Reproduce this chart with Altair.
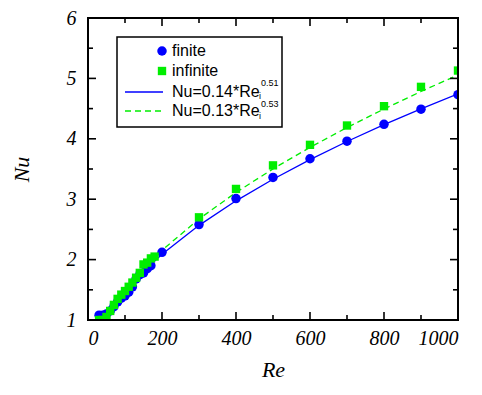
import altair as alt
import pandas as pd

# ---- data ----
fin_re = [30, 40, 50, 60, 70, 80, 90, 100, 110, 120, 130, 140, 150, 160, 170, 200,
          300, 400, 500, 600, 700, 800, 900, 1000]
fin_nu = [1.08, 1.08, 1.10, 1.15, 1.22, 1.30, 1.36, 1.40, 1.46, 1.55, 1.68, 1.75, 1.78, 1.85, 1.90, 2.12,
          2.58, 3.01, 3.36, 3.67, 3.96, 4.24, 4.49, 4.73]
inf_re = [30, 40, 50, 60, 70, 80, 90, 100, 110, 120, 130, 140, 150, 160, 170, 180,
          300, 400, 500, 600, 700, 800, 900, 1000]
inf_nu = [1.0, 1.0, 1.05, 1.15, 1.25, 1.35, 1.42, 1.48, 1.55, 1.62, 1.70, 1.78, 1.92, 1.95, 2.02, 2.05,
          2.70, 3.17, 3.56, 3.90, 4.22, 4.54, 4.86, 5.13]
# fitted curves
fit_re = [40, 50, 60, 80, 100, 150, 200, 300, 400, 500, 600, 700, 800, 900, 1000]
fit1_nu = [0.919, 1.029, 1.130, 1.308, 1.466, 1.803, 2.088, 2.567, 2.973, 3.331, 3.656, 3.955, 4.234, 4.495, 4.744]
fit2_nu = [0.918, 1.034, 1.139, 1.326, 1.493, 1.850, 2.155, 2.672, 3.112, 3.502, 3.858, 4.186, 4.493, 4.783, 5.057]

x_major = [0, 200, 400, 600, 800, 1000]
x_minor = [100, 300, 500, 700, 900]
y_major = [1, 2, 3, 4, 5, 6]
y_minor = [1.5, 2.5, 3.5, 4.5, 5.5]
x_range = [0, 1000]
y_range = [1, 6]

BLUE = "#0000ff"
GREEN = "#00ee00"
SERIF = "Liberation Serif"
SANS = "Liberation Sans"

W, H = 370, 302

xs = alt.Scale(domain=x_range, nice=False, zero=False)
ys = alt.Scale(domain=y_range, nice=False, zero=False)

df_fin = pd.DataFrame({"Re": fin_re, "Nu": fin_nu})
df_inf = pd.DataFrame({"Re": inf_re, "Nu": inf_nu})
df_fit = pd.DataFrame({"Re": fit_re, "f1": fit1_nu, "f2": fit2_nu})

xax = alt.Axis(values=x_major, format="d", tickSize=0, domain=False, grid=False, labelFont=SERIF,
               labelFontStyle="italic", labelFontSize=20, labelColor="black", labelPadding=8,
               title="Re", titleFont=SERIF, titleFontStyle="italic", titleFontWeight="normal",
               titleFontSize=22, titleColor="black", titlePadding=11)
yax = alt.Axis(values=y_major, format="d", tickSize=0, domain=False, grid=False, labelFont=SERIF,
               labelFontStyle="italic", labelFontSize=20, labelColor="black", labelPadding=12,
               title="Nu", titleFont=SERIF, titleFontStyle="italic", titleFontWeight="normal",
               titleFontSize=22, titleColor="black", titlePadding=33)

base_fit = alt.Chart(df_fit)
line1 = base_fit.mark_line(color=BLUE, strokeWidth=1.3, clip=True).encode(
    x=alt.X("Re:Q", scale=xs, axis=xax), y=alt.Y("f1:Q", scale=ys, axis=yax))
line2 = base_fit.mark_line(color=GREEN, strokeWidth=1.3, strokeDash=[6, 4], clip=True).encode(
    x=alt.X("Re:Q", scale=xs), y=alt.Y("f2:Q", scale=ys))

pts_fin = alt.Chart(df_fin).mark_point(shape="circle", filled=True, color=BLUE, size=90,
                                        opacity=1, clip=True).encode(
    x=alt.X("Re:Q", scale=xs), y=alt.Y("Nu:Q", scale=ys))
pts_inf = alt.Chart(df_inf).mark_point(shape="square", filled=True, color=GREEN, size=70,
                                        opacity=1, clip=True).encode(
    x=alt.X("Re:Q", scale=xs), y=alt.Y("Nu:Q", scale=ys))

# frame around the plot area: four rules along the domain edges
fr = pd.DataFrame({"x0": [x_range[0], x_range[1], x_range[0], x_range[0]],
                   "x1": [x_range[0], x_range[1], x_range[1], x_range[1]],
                   "y0": [y_range[0], y_range[0], y_range[0], y_range[1]],
                   "y1": [y_range[1], y_range[1], y_range[0], y_range[1]]})
frame = alt.Chart(fr).mark_rule(color="black", strokeWidth=2, opacity=1, strokeCap="square").encode(
    x=alt.X("x0:Q", scale=xs), x2="x1:Q", y=alt.Y("y0:Q", scale=ys), y2="y1:Q")

# inward ticks on all four sides
def xticks(vals, y, size, off):
    d = pd.DataFrame({"Re": vals, "Nu": [y] * len(vals)})
    return alt.Chart(d).mark_tick(orient="vertical", size=size, thickness=1.6, color="black",
                                  opacity=1, yOffset=off).encode(
        x=alt.X("Re:Q", scale=xs), y=alt.Y("Nu:Q", scale=ys))

def yticks(vals, x, size, off):
    d = pd.DataFrame({"Re": [x] * len(vals), "Nu": vals})
    return alt.Chart(d).mark_tick(orient="horizontal", size=size, thickness=1.6, color="black",
                                  opacity=1, xOffset=off).encode(
        x=alt.X("Re:Q", scale=xs), y=alt.Y("Nu:Q", scale=ys))

ticks = [
    xticks(x_major, 1, 8, -4), xticks(x_minor, 1, 5, -2.5),
    xticks(x_major, 6, 8, 4), xticks(x_minor, 6, 5, 2.5),
    yticks(y_major, 0, 8, 4), yticks(y_minor, 0, 5, 2.5),
    yticks(y_major, 1000, 8, -4), yticks(y_minor, 1000, 5, -2.5),
]

# ---- legend (drawn by hand to allow sub/superscripts) ----
one = pd.DataFrame({"k": [0]})
leg_box = alt.Chart(one).mark_rect(fill="white", stroke="black", strokeWidth=1.5, opacity=1).encode(
    x=alt.value(29), x2=alt.value(194), y=alt.value(19), y2=alt.value(109))
leg_c = alt.Chart(one).mark_point(shape="circle", filled=True, color=BLUE, size=90, opacity=1).encode(
    x=alt.value(74), y=alt.value(33))
leg_s = alt.Chart(one).mark_point(shape="square", filled=True, color=GREEN, size=70, opacity=1).encode(
    x=alt.value(74), y=alt.value(53))
leg_l1 = alt.Chart(one).mark_rule(color=BLUE, strokeWidth=1.3).encode(
    x=alt.value(37), x2=alt.value(75), y=alt.value(74))
leg_l2 = alt.Chart(one).mark_rule(color=GREEN, strokeWidth=1.3, strokeDash=[6, 4]).encode(
    x=alt.value(37), x2=alt.value(75), y=alt.value(93))

def txt(s, x, y, size=16):
    return alt.Chart(pd.DataFrame({"t": [s]})).mark_text(
        font=SANS, fontSize=size, align="left", baseline="middle", color="black").encode(
        text="t:N", x=alt.value(x), y=alt.value(y))

legend = [leg_box, leg_c, leg_s, leg_l1, leg_l2,
          txt("finite", 84, 33), txt("infinite", 84, 53),
          txt("Nu=0.14*Re", 84, 74), txt("i", 171, 78, 9), txt("0.51", 173, 65, 9),
          txt("Nu=0.13*Re", 84, 93), txt("i", 171, 98, 9), txt("0.53", 173, 86, 9)]

chart = alt.layer(line1, line2, pts_fin, pts_inf, frame, *ticks, *legend).properties(
    width=W, height=H,
    autosize=alt.AutoSizeParams(type="none"),
    padding={"left": 80, "top": 10, "right": 16, "bottom": 60},
).configure(background="white").configure_view(strokeWidth=0)

chart.save("out.html", embed_options={"renderer": "svg", "actions": False})
